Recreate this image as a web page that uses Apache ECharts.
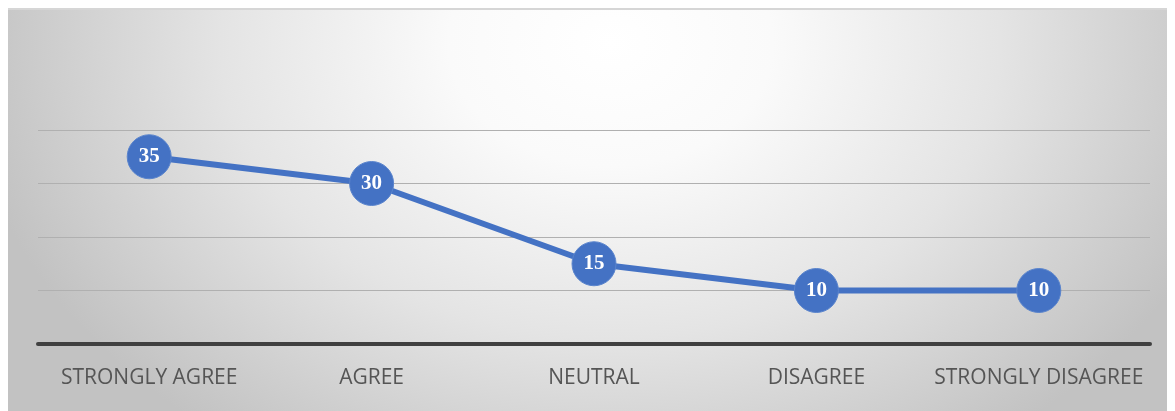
<!DOCTYPE html>
<html>
<head>
<meta charset="utf-8">
<script src="https://cdn.jsdelivr.net/npm/echarts@6/dist/echarts.min.js"></script>
<style>
  html, body { margin: 0; padding: 0; background: #ffffff; }
  #wrap { position: relative; width: 1175px; height: 411px; overflow: hidden; }
  #panel {
    position: absolute; left: 8px; top: 8px; width: 1159px; height: 410px;
    border-top: 2px solid #d6d6d6;
    background: radial-gradient(ellipse 56% 120% at 52% 8%, #ffffff 0%, #fafafa 25%, #e4e4e4 60%, #c2c2c2 100%);
  }
  #chart { position: absolute; left: 0; top: 0; width: 1175px; height: 411px; }
</style>
</head>
<body>
<div id="wrap">
  <div id="panel"></div>
  <div id="chart"></div>
</div>
<script>
const categories = ['STRONGLY AGREE', 'AGREE', 'NEUTRAL', 'DISAGREE', 'STRONGLY DISAGREE'];
const values = [35, 30, 15, 10, 10];
const yTicks = [0, 10, 20, 30, 40];

const chart = echarts.init(document.getElementById('chart'), null, { renderer: 'canvas' });
chart.setOption({
  backgroundColor: 'transparent',
  animation: false,
  grid: { left: 38, right: 25, top: 130, bottom: 67, containLabel: false },
  xAxis: {
    type: 'category',
    data: categories,
    boundaryGap: true,
    axisLine: { show: true, lineStyle: { color: '#404040', width: 4 } },
    axisTick: { show: false },
    axisLabel: {
      interval: 0, hideOverlap: false,
      color: '#555555', fontFamily: 'Open Sans', fontSize: 21, margin: 24
    },
    splitLine: { show: false }
  },
  yAxis: {
    type: 'value',
    min: yTicks[0], max: yTicks[yTicks.length - 1], interval: 10,
    axisLine: { show: false },
    axisTick: { show: false },
    axisLabel: { show: false },
    splitLine: { show: true, lineStyle: { color: '#b0b0b0', width: 1 } }
  },
  series: [{
    type: 'line',
    data: values,
    symbol: 'circle',
    symbolSize: 44,
    lineStyle: { color: '#4472C4', width: 6 },
    itemStyle: { color: '#4472C4', borderColor: '#5a84cc', borderWidth: 1 },
    label: {
      show: true, position: 'inside', color: '#ffffff',
      fontFamily: 'Liberation Serif', fontWeight: 'bold', fontSize: 21
    },
    z: 3
  }]
});
</script>
</body>
</html>
